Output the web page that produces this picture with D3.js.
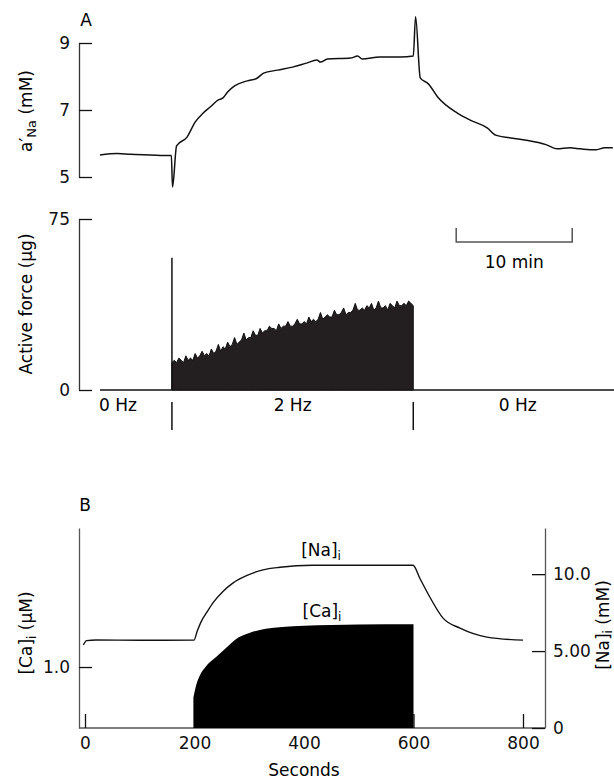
<!DOCTYPE html>
<html>
<head>
<meta charset="utf-8">
<script src="https://cdn.jsdelivr.net/npm/d3@7/dist/d3.min.js"></script>
<style>
    body { margin: 0; background: #fff; }
    svg { display: block; font-family: "DejaVu Sans", sans-serif; }
</style>
</head>
<body>
<svg id="chart" width="614" height="781"></svg>
<script>
// Panel A, top: a'Na trace (time in minutes, mM)
var naTopTime = [0, 1.5, 2.6, 4.3, 6.0, 6.15, 6.25, 6.6, 7.5, 8.2, 8.9, 9.5, 10.2, 10.6, 11.0, 11.6, 12.7, 13.5, 14.1, 15.3, 16.6, 17.8, 18.7, 19.0, 19.6, 21.6, 22.2, 22.6, 24.1, 25.9, 27.0, 27.2, 27.6, 28.3, 29.1, 30.8, 31.9, 33.4, 34.1, 36.2, 38.5, 39.4, 40.5, 41.4, 42.7, 43.5, 44.2];
var naTopValue = [5.66, 5.70, 5.68, 5.66, 5.64, 5.64, 4.70, 5.93, 6.19, 6.64, 6.91, 7.09, 7.30, 7.36, 7.54, 7.72, 7.87, 7.94, 8.10, 8.19, 8.28, 8.40, 8.49, 8.43, 8.52, 8.55, 8.61, 8.52, 8.58, 8.58, 8.61, 9.78, 7.96, 7.78, 7.39, 6.91, 6.70, 6.46, 6.25, 6.13, 5.96, 5.84, 5.87, 5.84, 5.81, 5.87, 5.87];
var naTopTicks = [5, 7, 9];

// Panel A, bottom: active force during 2 Hz stimulation (one value every 0.2 min)
var forceStart = 6.2;
var forceStep = 0.2;
var forceValue = [12, 13, 12, 14, 13, 12, 15, 13, 14, 13,
    16, 14, 15, 17, 15, 16, 15, 18, 16, 17,
    20, 17, 19, 18, 21, 19, 20, 23, 20, 21,
    22, 25, 22, 23, 23, 26, 24, 24, 27, 25,
    26, 26, 28, 27, 27, 26, 29, 27, 28, 28,
    30, 28, 28, 29, 31, 29, 29, 30, 29, 32,
    30, 31, 30, 31, 34, 31, 32, 33, 32, 32,
    35, 33, 33, 34, 36, 33, 34, 34, 35, 38,
    35, 35, 36, 35, 37, 36, 38, 35, 36, 39,
    36, 36, 37, 35, 38, 37, 36, 39, 37, 37,
    38, 37, 39, 38, 37];
var forceSpike = 58;
var forceTicks = [0, 75];
var traceEnd = 44.3;
var stimOn = 6.2;
var stimOff = 27.0;
var freqLabels = ['0 Hz', '2 Hz', '0 Hz'];
var freqPos = [1.55, 16.6, 36.0];
var scaleBar = [30.7, 40.7];

// Panel B: model traces (seconds)
var naTime = [-3, 3, 20, 100, 199, 205, 212, 223, 234, 252, 270, 296, 325, 356, 416, 599, 612, 630, 654, 685, 734, 800];
var naValue = [5.40, 5.68, 5.72, 5.70, 5.71, 6.30, 6.90, 7.55, 8.15, 8.88, 9.42, 9.92, 10.28, 10.45, 10.58, 10.58, 9.7, 8.5, 7.14, 6.49, 5.91, 5.71];
var caTime = [198, 203, 210, 220, 240, 260, 280, 300, 330, 360, 400, 450, 500, 600];
var caValue = [0.85, 0.91, 0.96, 1.0, 1.05, 1.10, 1.145, 1.168, 1.188, 1.197, 1.203, 1.207, 1.209, 1.21];
var secTicks = [0, 200, 400, 600, 800];
var caTicks = [1.0];
var naTicks = [0, 5, 10];

var svg = d3.select('#chart');
var fs = 17;

// scales
var xMin = d3.scaleLinear().domain([0, 44.3]).range([100, 614]);
var yNaTop = d3.scaleLinear().domain([5, 9]).range([177, 43]);
var yForce = d3.scaleLinear().domain([0, 75]).range([390, 219]);
var xSec = d3.scaleLinear().domain([0, 800]).range([85, 523]);
var yCa = d3.scaleLinear().domain([0.7, 1.684]).range([728, 528]);
var yNa = d3.scaleLinear().domain([0, 13]).range([728, 528]);

function styleAxis(g, color) {
    g.selectAll('path').attr('stroke', color).attr('stroke-width', 1.3);
    g.selectAll('line').attr('stroke', '#111').attr('stroke-width', 1.3);
    g.selectAll('text').attr('font-size', fs).attr('font-family', '"DejaVu Sans", sans-serif').attr('fill', '#111');
}

// ---------- Panel A ----------
svg.append('text').text('A').attr('x', 86).attr('y', 26)
    .attr('text-anchor', 'middle').attr('font-size', fs);

var axNa = svg.append('g').attr('transform', 'translate(79,0)')
    .call(d3.axisLeft(yNaTop).tickValues(naTopTicks).tickSize(-13).tickSizeOuter(0).tickPadding(9).tickFormat(d3.format('d')));
styleAxis(axNa, '#333');

var yl1 = svg.append('text')
    .attr('transform', 'translate(32,111) rotate(-90)')
    .attr('text-anchor', 'middle').attr('font-size', fs);
yl1.append('tspan').text('a′');
yl1.append('tspan').text('Na').attr('font-size', 13).attr('dy', 4);
yl1.append('tspan').text(' (mM)').attr('dy', -4);

svg.append('path')
    .datum(d3.range(naTopTime.length))
    .attr('d', d3.line().curve(d3.curveMonotoneX)
        .x(function (i) { return xMin(naTopTime[i]); })
        .y(function (i) { return yNaTop(naTopValue[i]); }))
    .attr('fill', 'none').attr('stroke', '#111').attr('stroke-width', 1.5).attr('stroke-linejoin', 'round');

// force
var axF = svg.append('g').attr('transform', 'translate(79,0)')
    .call(d3.axisLeft(yForce).tickValues(forceTicks).tickSize(-13).tickSizeOuter(0).tickPadding(9));
styleAxis(axF, '#333');

svg.append('text').text('Active force (µg)')
    .attr('transform', 'translate(32,304) rotate(-90)')
    .attr('text-anchor', 'middle').attr('font-size', fs);

svg.append('line')
    .attr('x1', xMin(0)).attr('x2', xMin(traceEnd))
    .attr('y1', yForce(0)).attr('y2', yForce(0))
    .attr('stroke', '#111').attr('stroke-width', 1.5);

var forceArea = d3.area()
    .x(function (d, i) { return xMin(forceStart + i * forceStep); })
    .y0(yForce(0))
    .y1(function (d) { return yForce(d); });

svg.append('path')
    .datum(forceValue)
    .attr('d', forceArea)
    .attr('fill', '#231f20').attr('stroke', '#111').attr('stroke-width', 1).attr('stroke-linejoin', 'round');

svg.append('line')
    .attr('x1', xMin(stimOn)).attr('x2', xMin(stimOn))
    .attr('y1', yForce(0)).attr('y2', yForce(forceSpike))
    .attr('stroke', '#111').attr('stroke-width', 1.5);

// scale bar
var sb = svg.append('g').attr('stroke', '#555').attr('stroke-width', 1.5).attr('fill', 'none');
sb.append('path').attr('d', 'M' + xMin(scaleBar[0]) + ',228 V242 H' + xMin(scaleBar[1]) + ' V228');
svg.append('text').text('10 min')
    .attr('x', (xMin(scaleBar[0]) + xMin(scaleBar[1])) / 2).attr('y', 268)
    .attr('text-anchor', 'middle').attr('font-size', fs);

// stimulation frequency
svg.selectAll('.freq').data(freqLabels).enter().append('text')
    .text(function (d) { return d; })
    .attr('x', function (d, i) { return xMin(freqPos[i]); })
    .attr('y', 411)
    .attr('text-anchor', 'middle').attr('font-size', fs);

svg.selectAll('.stim').data([stimOn, stimOff]).enter().append('line')
    .attr('x1', function (d) { return xMin(d); }).attr('x2', function (d) { return xMin(d); })
    .attr('y1', 402).attr('y2', 430)
    .attr('stroke', '#111').attr('stroke-width', 1.5);

// ---------- Panel B ----------
svg.append('text').text('B').attr('x', 85).attr('y', 511)
    .attr('text-anchor', 'middle').attr('font-size', fs);

var axX = svg.append('g').attr('transform', 'translate(0,728)')
    .call(d3.axisBottom(xSec).tickValues(secTicks).tickSize(-14).tickSizeOuter(0).tickPadding(9));
axX.select('.domain').attr('d', 'M79,0H545');
styleAxis(axX, '#555');

var axCa = svg.append('g').attr('transform', 'translate(79,0)')
    .call(d3.axisLeft(yCa).tickValues(caTicks).tickSize(-13).tickSizeOuter(0).tickPadding(9).tickFormat(d3.format('.1f')));
styleAxis(axCa, '#555');

var axNaR = svg.append('g').attr('transform', 'translate(545,0)')
    .call(d3.axisRight(yNa).tickValues(naTicks).tickSize(-13).tickSizeOuter(0).tickPadding(8)
        .tickFormat(function (d) { return d === 0 ? '0' : (d === 5 ? '5.00' : '10.0'); }));
styleAxis(axNaR, '#555');

svg.append('text').text('Seconds')
    .attr('x', xSec(400)).attr('y', 776)
    .attr('text-anchor', 'middle').attr('font-size', fs);

var ylCa = svg.append('text')
    .attr('transform', 'translate(32,633) rotate(-90)')
    .attr('text-anchor', 'middle').attr('font-size', fs);
ylCa.append('tspan').text('[Ca]');
ylCa.append('tspan').text('i').attr('font-size', 12).attr('dy', 4);
ylCa.append('tspan').text(' (µM)').attr('dy', -4);

var ylNa = svg.append('text')
    .attr('transform', 'translate(609,625) rotate(-90)')
    .attr('text-anchor', 'middle').attr('font-size', fs);
ylNa.append('tspan').text('[Na]');
ylNa.append('tspan').text('i').attr('font-size', 12).attr('dy', 3);
ylNa.append('tspan').text(' (mM)').attr('dy', -3);

// [Ca]i filled trace
svg.append('path')
    .datum(d3.range(caTime.length))
    .attr('d', d3.area().curve(d3.curveMonotoneX)
        .x(function (i) { return xSec(caTime[i]); })
        .y0(yCa(0.7))
        .y1(function (i) { return yCa(caValue[i]); }))
    .attr('fill', '#000');

// [Na]i line
svg.append('path')
    .datum(d3.range(naTime.length))
    .attr('d', d3.line().curve(d3.curveMonotoneX)
        .x(function (i) { return xSec(naTime[i]); })
        .y(function (i) { return yNa(naValue[i]); }))
    .attr('fill', 'none').attr('stroke', '#111').attr('stroke-width', 1.4);

var lNa = svg.append('text').attr('x', 321).attr('y', 556).attr('text-anchor', 'middle').attr('font-size', fs);
lNa.append('tspan').text('[Na]');
lNa.append('tspan').text('i').attr('font-size', 12).attr('dy', 4);

var lCa = svg.append('text').attr('x', 322).attr('y', 617).attr('text-anchor', 'middle').attr('font-size', fs);
lCa.append('tspan').text('[Ca]');
lCa.append('tspan').text('i').attr('font-size', 12).attr('dy', 4);
</script>
</body>
</html>
